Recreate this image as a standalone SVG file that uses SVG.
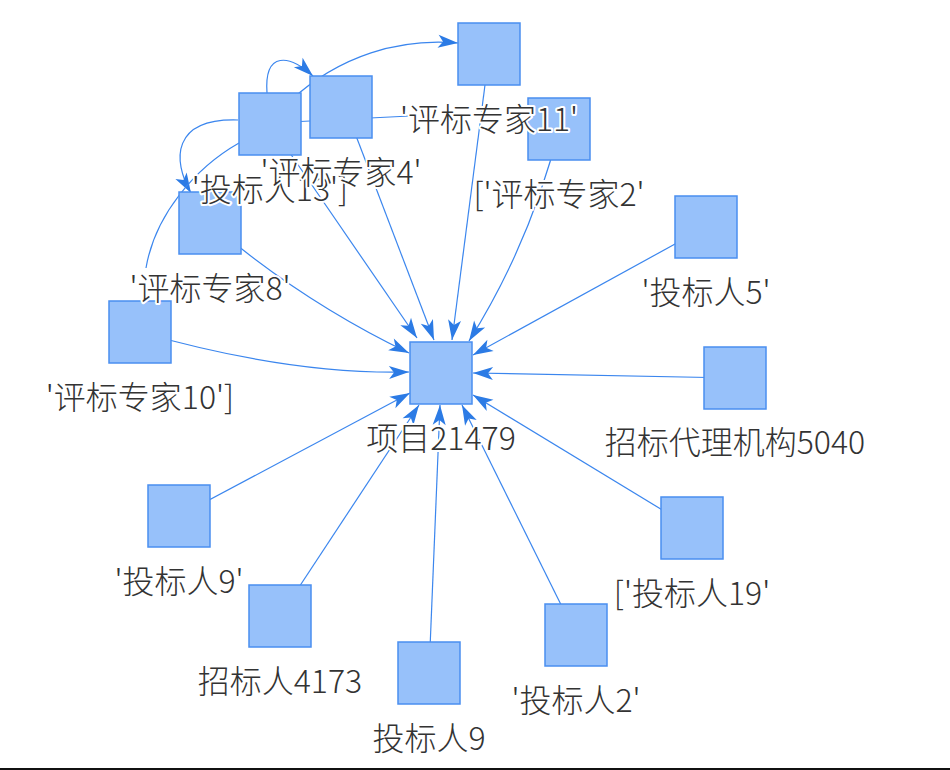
<svg xmlns="http://www.w3.org/2000/svg" width="950" height="770" viewBox="0 0 950 770">
<defs>
<style>
.edge{fill:none;stroke:#3b86ee;stroke-width:1.2}
.node{fill:#97c1fa;stroke:#4a8ef0;stroke-width:1.5}
.lbl{font-family:"Noto Sans CJK SC","Noto Sans",sans-serif;font-size:32px;font-weight:300;fill:#333;text-anchor:middle;stroke:#fff;stroke-width:4;stroke-linejoin:round;paint-order:stroke}
</style>
<marker id="arr" markerUnits="userSpaceOnUse" markerWidth="24" markerHeight="16" refX="20" refY="8" orient="auto" viewBox="0 0 24 16" overflow="visible">
<path d="M20,8 L0,1.5 L5,8 L0,14.5 Z" fill="#2c7be5"/>
</marker>
</defs>
<rect width="950" height="770" fill="#fff"/>
<g id="connectors">
<path class="edge" marker-end="url(#arr)" d="M140,332 Q290,375 409,372"/>
<path class="edge" marker-end="url(#arr)" d="M210,223 Q301,301 409,353"/>
<path class="edge" marker-end="url(#arr)" d="M270,124 L417,338"/>
<path class="edge" marker-end="url(#arr)" d="M345,107 L434,340"/>
<path class="edge" marker-end="url(#arr)" d="M489,54 L452,340"/>
<path class="edge" marker-end="url(#arr)" d="M559,129 Q531,242 469,341"/>
<path class="edge" marker-end="url(#arr)" d="M706,227 L473,355"/>
<path class="edge" marker-end="url(#arr)" d="M735,378 L473,373"/>
<path class="edge" marker-end="url(#arr)" d="M692,528 L473,395"/>
<path class="edge" marker-end="url(#arr)" d="M576,635 L462,405"/>
<path class="edge" marker-end="url(#arr)" d="M429,673 L440,405"/>
<path class="edge" marker-end="url(#arr)" d="M280,616 L419,405"/>
<path class="edge" marker-end="url(#arr)" d="M179,516 L410,393"/>
<path class="edge" marker-end="url(#arr)" d="M267,93 C264,50 290,55 313,76"/>
<path class="edge" marker-end="url(#arr)" d="M290,101 C340,55 400,38 458,43"/>
<path class="edge" marker-end="url(#arr)" d="M238,120 C172,118 172,160 191,193"/>
<path class="edge" d="M239,143 C195,168 155,215 146,268"/>
<path class="edge" d="M270,123 L410,116"/>
</g>
<g id="n-expert10"><rect class="node" x="109" y="301" width="62" height="62"/><text class="lbl" x="140" y="409">'评标专家10']</text></g>
<g id="n-expert8"><rect class="node" x="179" y="192" width="62" height="62"/><text class="lbl" x="210" y="300">'评标专家8'</text></g>
<g id="n-bidder13"><rect class="node" x="239" y="93" width="62" height="62"/><text class="lbl" x="270" y="201">'投标人13']</text></g>
<g id="n-expert4"><rect class="node" x="310" y="76" width="62" height="62"/><text class="lbl" x="341" y="184">'评标专家4'</text></g>
<g id="n-expert2"><rect class="node" x="528" y="98" width="62" height="62"/><text class="lbl" x="559" y="206">['评标专家2'</text></g>
<g id="n-expert11"><rect class="node" x="458" y="23" width="62" height="62"/><text class="lbl" x="489" y="131">'评标专家11'</text></g>
<g id="n-project"><rect class="node" x="410" y="342" width="62" height="62"/><text class="lbl" x="441" y="450">项目21479</text></g>
<g id="n-bidder5"><rect class="node" x="675" y="196" width="62" height="62"/><text class="lbl" x="706" y="304">'投标人5'</text></g>
<g id="n-agency"><rect class="node" x="704" y="347" width="62" height="62"/><text class="lbl" x="735" y="454">招标代理机构5040</text></g>
<g id="n-bidder19"><rect class="node" x="661" y="497" width="62" height="62"/><text class="lbl" x="692" y="605">['投标人19'</text></g>
<g id="n-bidder2"><rect class="node" x="545" y="604" width="62" height="62"/><text class="lbl" x="576" y="712">'投标人2'</text></g>
<g id="n-bidder9b"><rect class="node" x="398" y="642" width="62" height="62"/><text class="lbl" x="429" y="750">投标人9</text></g>
<g id="n-tenderer"><rect class="node" x="249" y="585" width="62" height="62"/><text class="lbl" x="280" y="693">招标人4173</text></g>
<g id="n-bidder9a"><rect class="node" x="148" y="485" width="62" height="62"/><text class="lbl" x="179" y="593">'投标人9'</text></g>
<rect x="0" y="768" width="950" height="2" fill="#111"/>
</svg>
